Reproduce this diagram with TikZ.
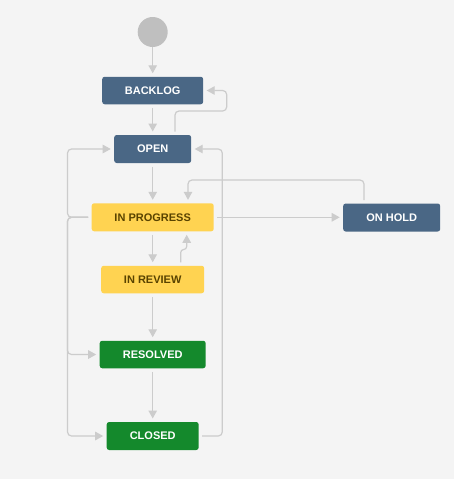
\documentclass[tikz,border=0pt]{standalone}
\usepackage{fontspec}
\setmainfont{Liberation Sans}
\usetikzlibrary{arrows.meta}
\definecolor{bg}{HTML}{F4F4F4}
\definecolor{jblue}{HTML}{4A6785}
\definecolor{jyellow}{HTML}{FFD351}
\definecolor{jyeltext}{HTML}{594300}
\definecolor{jgreen}{HTML}{14892C}
\definecolor{jline}{HTML}{CCCCCC}
\definecolor{jstart}{HTML}{BFBFBF}
\tikzset{
  status/.style={rectangle, rounded corners=2.5pt, inner sep=0pt, outer sep=3.5pt,
    minimum height=28pt, font=\fontsize{11}{13}\selectfont\bfseries},
  todo/.style={status, fill=jblue, text=white},
  prog/.style={status, fill=jyellow, text=jyeltext},
  done/.style={status, fill=jgreen, text=white},
  startdot/.style={circle, fill=jstart, minimum size=30pt, inner sep=0pt, outer sep=0pt},
  arr/.style={draw=jline, line width=1.2pt, rounded corners=4pt,
    -{Triangle[length=8pt,width=8.5pt]}},
}
\begin{document}
\begin{tikzpicture}[x=1pt,y=-1pt]
\fill[bg] (0,0) rectangle (454,479);
\useasboundingbox (0,0) rectangle (454,479);

\node[startdot] (start) at (152.7,32) {};
\node[todo, minimum width=101pt, minimum height=27.5pt] (backlog) at (152.7,90.5) {BACKLOG};
\node[todo, minimum width=77pt] (open) at (152.7,149) {OPEN};
\node[prog, minimum width=122pt] (inprog) at (152.7,217.3) {IN PROGRESS};
\node[todo, minimum width=97pt] (onhold) at (391.7,217.5) {ON HOLD};
\node[prog, minimum width=103pt, minimum height=27.5pt] (inreview) at (152.7,279.5) {IN REVIEW};
\node[done, minimum width=106pt, minimum height=27.5pt] (resolved) at (152.7,354.5) {RESOLVED};
\node[done, minimum width=92pt] (closed) at (152.7,436) {CLOSED};

\coordinate (lt) at (67.5,180);
\coordinate (lb) at (67.5,300);
\coordinate (rt) at (222.3,300);
\coordinate (bk) at (226.7,111);
\coordinate (oh) at (188,180);
\coordinate (rv) at (186.7,249.5);

% straight flow
\draw[arr] (start) -- (backlog);
\draw[arr] (backlog) -- (open);
\draw[arr] (open) -- (inprog);
\draw[arr] (inprog) -- (inreview);
\draw[arr] (inreview) -- (resolved);
\draw[arr] (resolved) -- (closed);

% open -> backlog
\draw[arr] ([xshift=22.3pt]open.north) |- (bk) |- (backlog.east);
% in progress -> open / resolved / closed (left side)
\draw[arr] (inprog.west) -| (lt) |- (open.west);
\draw[arr] (inprog.west) -| (lb) |- (resolved.west);
\draw[arr] (inprog.west) -| (lb) |- (closed.west);
% closed -> open (right side)
\draw[arr] (closed.east) -| (rt) |- (open.east);
% in progress -> on hold
\draw[arr] (inprog.east) -- (onhold.west |- inprog.east);
% on hold -> in progress
\draw[arr] ([xshift=-27.7pt]onhold.north) |- (oh) -- (oh |- inprog.north);
% in review -> in progress
\draw[arr, rounded corners=3pt] ([xshift=28pt]inreview.north) |- (rv) -- (rv |- inprog.south);
\end{tikzpicture}
\end{document}
